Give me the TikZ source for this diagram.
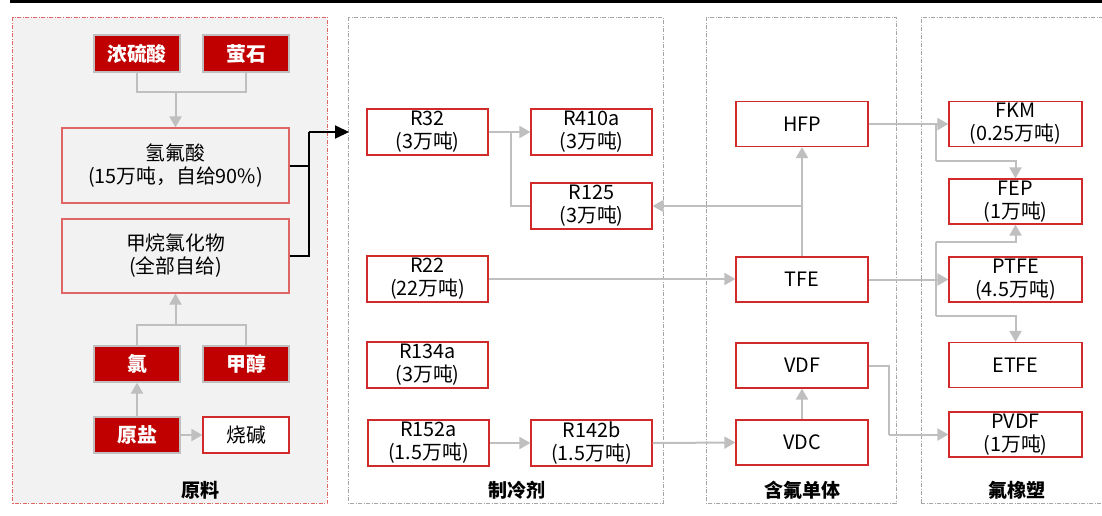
\documentclass[tikz,border=0pt]{standalone}
\usepackage{fontspec}
\setmainfont{Noto Sans CJK SC}
\usetikzlibrary{arrows.meta}
\definecolor{dred}{HTML}{C00000}
\definecolor{bred}{HTML}{D02A2A}
\definecolor{pred}{HTML}{E06666}
\definecolor{lgray}{HTML}{F2F2F2}
\definecolor{cgray}{HTML}{BFBFBF}
\definecolor{pgray}{HTML}{A6A6A6}
\tikzset{
  box/.style={draw=bred, line width=1.2pt, fill=white, inner sep=0pt, align=center,
    font=\fontsize{19.8}{23}\selectfont, text=black},
  redbox/.style={draw=cgray, line width=1.2pt, fill=dred, inner sep=0pt, align=center,
    font=\fontsize{19.8}{23}\selectfont\bfseries, text=white},
  panel/.style={draw=pgray, line width=0.8pt, dash pattern=on 4pt off 1.5pt on 1pt off 1.5pt},
  plabel/.style={font=\fontsize{19}{22}\selectfont\bfseries, text=black},
  conn/.style={draw=cgray, line width=2pt},
  arr/.style={conn, -{Triangle[length=11pt,width=12pt]}},
  barr/.style={draw=black, line width=2pt, -{Triangle[length=14pt,width=13pt]}},
}
\begin{document}
\begin{tikzpicture}[x=1pt,y=-1pt]
\useasboundingbox (0,0) rectangle (1102,515);
% top line
\fill[black] (10,0) rectangle (1102,2.5);
% panels
\draw[panel, draw=pred, fill=lgray, line width=1pt] (12.5,17) rectangle (327,503);
\draw[panel] (348,17) rectangle (663,503);
\draw[panel] (706,17) rectangle (896,503);
\draw[panel] (921,503) -- (921,17) -- (1110,17);
\draw[panel] (921,503) -- (1110,503);
\node[plabel] (lab1) at (200,490) {原料};
\node[plabel] (lab2) at (517,490) {制冷剂};
\node[plabel] (lab3) at (802,490) {含氟单体};
\node[plabel] (lab4) at (1017,490) {氟橡塑};
% panel 1
\node[redbox, minimum width=86pt, minimum height=37pt] (h2so4) at (137,53.5) {浓硫酸};
\node[redbox, minimum width=86pt, minimum height=37pt] (caf2) at (246,53.5) {萤石};
\node[box, draw=pred, fill=lgray, minimum width=227pt, minimum height=75pt] (hf) at (175.5,165.5) {氢氟酸\\(15万吨，自给90\%)};
\node[box, draw=pred, fill=lgray, minimum width=227pt, minimum height=74pt] (mcl) at (175.5,256) {甲烷氯化物\\(全部自给)};
\node[redbox, minimum width=86pt, minimum height=36pt] (cl) at (137,364) {氯};
\node[redbox, minimum width=86pt, minimum height=36pt] (meoh) at (246,364) {甲醇};
\node[redbox, minimum width=86pt, minimum height=36pt] (salt) at (137,435) {原盐};
\node[box, minimum width=86pt, minimum height=36pt] (naoh) at (246,435) {烧碱};
\coordinate (j1) at (175.5,92);
\draw[conn] (h2so4.south) |- (j1) -| (caf2.south);
\draw[arr] (j1) -- (hf.north);
\coordinate (j2) at (175.5,325);
\draw[conn] (cl.north) |- (j2) -| (meoh.north);
\draw[arr] (j2) -- (mcl.south);
\draw[arr] (salt.north) -- (cl.south);
\draw[arr] (salt.east) -- (naoh.west);
% black arrow
\coordinate (bj) at (309,132);
\coordinate (bt) at (349,132);
\draw[draw=black, line width=2pt] (hf.east) -| (bj);
\draw[draw=black, line width=2pt] (mcl.east) -| (bj);
\draw[barr] (bj) -- (bt);
% panel 2
\tikzset{rbox/.style={box, minimum width=121pt, minimum height=46pt}}
\node[rbox] (r32) at (427.5,132) {R32\\(3万吨)};
\node[rbox] (r410) at (591.5,132) {R410a\\(3万吨)};
\node[rbox] (r125) at (591.5,206) {R125\\(3万吨)};
\node[rbox] (r22) at (427.5,279) {R22\\(22万吨)};
\node[rbox] (r134) at (427.5,365) {R134a\\(3万吨)};
\node[rbox] (r152) at (428.5,443) {R152a\\(1.5万吨)};
\node[rbox] (r142) at (591.5,443) {R142b\\(1.5万吨)};
% panel 3
\tikzset{mbox/.style={box, minimum width=132pt, minimum height=45pt}}
\node[mbox] (hfp) at (802,124) {HFP};
\node[mbox] (tfe) at (802,279.5) {TFE};
\node[mbox] (vdf) at (802,365.5) {VDF};
\node[mbox] (vdc) at (802,442.5) {VDC};
% panel 4
\tikzset{fbox/.style={box, minimum width=133pt, minimum height=45pt}}
\node[fbox] (fkm) at (1015.5,124) {FKM\\(0.25万吨)};
\node[fbox] (fep) at (1015.5,201.5) {FEP\\(1万吨)};
\node[fbox] (ptfe) at (1015.5,279.5) {PTFE\\(4.5万吨)};
\node[fbox] (etfe) at (1015.5,365) {ETFE};
\node[fbox] (pvdf) at (1015.5,434.5) {PVDF\\(1万吨)};
% connectors panel 2
\coordinate (j3) at (511,132);
\draw[arr] (r32.east) -- (r410.west);
\draw[conn] (r125.west) -| (j3);
\draw[arr] (r152.east) -- (r142.west);
\draw[arr] (r142.east) -- (vdc.west);
\draw[arr] (r22.east) -- (tfe.west |- r22.east);
% connectors panel 3
\coordinate (j4) at (802,206);
\draw[arr] (tfe.north) -- (hfp.south);
\draw[arr] (j4) -- (r125.east);
\draw[arr] (vdc.north) -- (vdf.south);
% to panel 4
\coordinate (j5) at (936,124);
\coordinate (j6) at (936,161);
\draw[arr] (hfp.east) -- (fkm.west);
\draw[conn] (j5) -- (j6);
\draw[arr] (j6) -| (fep.north);
\draw[arr] (tfe.east) -- (ptfe.west);
\coordinate (j7) at (936,242);
\coordinate (j8) at (936,316);
\draw[conn] (j7) -- (j8);
\draw[arr] (j7) -| (fep.south);
\draw[arr] (j8) -| (etfe.north);
\coordinate (j9) at (889,365.5);
\coordinate (j10) at (889,434.5);
\draw[conn] (vdf.east) -- (j9) -- (j10);
\draw[arr] (j10) -- (pvdf.west);
\end{tikzpicture}
\end{document}
